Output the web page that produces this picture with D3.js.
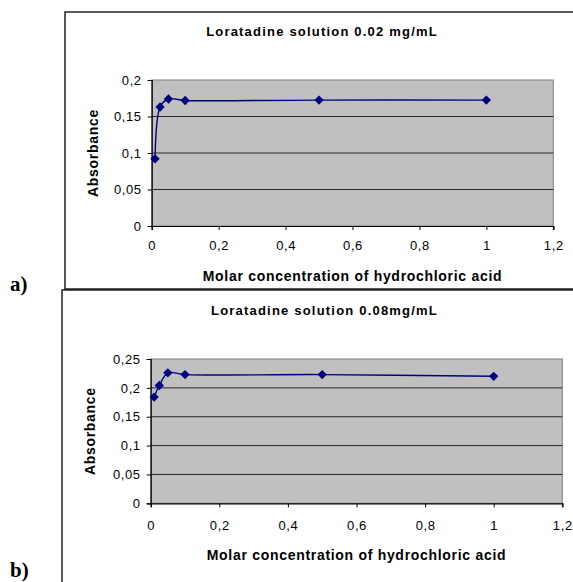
<!DOCTYPE html>
<html>
<head>
<meta charset="utf-8">
<script src="https://cdn.jsdelivr.net/npm/d3@7"></script>
<style>
  body { margin: 0; background: #fff; }
  svg { display: block; }
</style>
</head>
<body>
<div id="chart"></div>
<script>
// data
const concA = [0.01, 0.025, 0.05, 0.1, 0.5, 1];
const absA = [0.092, 0.163, 0.174, 0.172, 0.1725, 0.1725];
const concB = [0.01, 0.025, 0.05, 0.1, 0.5, 1];
const absB = [0.184, 0.204, 0.226, 0.223, 0.223, 0.22];
const xTicks = [0, 0.2, 0.4, 0.6, 0.8, 1, 1.2];
const yTicksA = [0, 0.05, 0.1, 0.15, 0.2];
const yTicksB = [0, 0.05, 0.1, 0.15, 0.2, 0.25];
const titles = ["Loratadine solution 0.02 mg/mL", "Loratadine solution 0.08mg/mL"];
const panelLabels = ["a)", "b)"];

const svg = d3.select("#chart").append("svg")
    .attr("width", 573)
    .attr("height", 582);

const fmt = d => String(d).replace(".", ",");

function drawPanel(cfg) {
    const g = svg.append("g");

    // outer chart frame
    g.append("rect")
        .attr("x", cfg.frame[0]).attr("y", cfg.frame[1])
        .attr("width", cfg.frame[2]).attr("height", cfg.frame[3])
        .attr("fill", "none").attr("stroke", "#000").attr("stroke-width", 1.3);

    const x = d3.scaleLinear().domain([0, 1.2]).range([cfg.left, cfg.right]);
    const y = d3.scaleLinear().domain([0, cfg.yMax]).range([cfg.bottom, cfg.top]);

    // grey plot area
    g.append("rect")
        .attr("x", cfg.left).attr("y", cfg.top)
        .attr("width", cfg.right - cfg.left).attr("height", cfg.bottom - cfg.top)
        .attr("fill", "#c0c0c0").attr("stroke", "#808080").attr("stroke-width", 1);

    // gridlines
    g.selectAll(".grid")
        .data(cfg.yTicks.filter(d => d > 0 && d < cfg.yMax))
        .enter().append("line")
        .attr("x1", cfg.left).attr("x2", cfg.right)
        .attr("y1", d => y(d)).attr("y2", d => y(d))
        .attr("stroke", "#000").attr("stroke-width", 0.8);

    // axes
    const xAxis = g.append("g")
        .attr("transform", `translate(0,${cfg.bottom})`)
        .call(d3.axisBottom(x).tickValues(xTicks).tickFormat(fmt).tickSize(4).tickPadding(cfg.xPad));
    const yAxis = g.append("g")
        .attr("transform", `translate(${cfg.left},0)`)
        .call(d3.axisLeft(y).tickValues(cfg.yTicks).tickFormat(fmt).tickSize(4).tickPadding(6));
    [xAxis, yAxis].forEach(a => {
        a.select(".domain").attr("stroke", "#000").attr("stroke-width", 1.2);
        a.selectAll(".tick line").attr("stroke", "#000");
        a.selectAll("text")
            .attr("fill", "#000")
            .style("font-family", "Liberation Sans, Arial, sans-serif")
            .style("font-size", "13px")
            .style("letter-spacing", "0.6px");
    });

    // smoothed data line
    const line = d3.line()
        .x(d => x(d[0]))
        .y(d => y(d[1]))
        .curve(d3.curveCatmullRom);
    const pts = cfg.xs.map((v, i) => [v, cfg.ys[i]]);
    g.append("path")
        .datum(pts)
        .attr("d", line)
        .attr("fill", "none")
        .attr("stroke", "#000080")
        .attr("stroke-width", 1.4);

    g.selectAll(".pt")
        .data(pts)
        .enter().append("path")
        .attr("transform", d => `translate(${x(d[0])},${y(d[1])})`)
        .attr("d", d3.symbol(d3.symbolDiamond2, 56))
        .attr("fill", "#000080");

    // titles
    g.append("text")
        .attr("x", cfg.titleX).attr("y", cfg.titleY)
        .attr("text-anchor", "middle")
        .style("font-family", "Liberation Sans, Arial, sans-serif")
        .style("font-weight", "bold")
        .style("font-size", "13px")
        .style("letter-spacing", "1.2px")
        .text(cfg.title);

    g.append("text")
        .attr("x", (cfg.left + cfg.right) / 2).attr("y", cfg.xLabelY)
        .attr("text-anchor", "middle")
        .style("font-family", "Liberation Sans, Arial, sans-serif")
        .style("font-weight", "bold")
        .style("font-size", "14px")
        .style("letter-spacing", "0.7px")
        .text("Molar concentration of hydrochloric acid");

    g.append("text")
        .attr("transform", `translate(${cfg.yLabelX},${(cfg.top + cfg.bottom) / 2}) rotate(-90)`)
        .attr("text-anchor", "middle")
        .style("font-family", "Liberation Sans, Arial, sans-serif")
        .style("font-weight", "bold")
        .style("font-size", "14px")
        .style("letter-spacing", "0.7px")
        .text("Absorbance");

    svg.append("text")
        .attr("x", 10).attr("y", cfg.panelY)
        .style("font-family", "Liberation Serif, Times New Roman, serif")
        .style("font-weight", "bold")
        .style("font-size", "21px")
        .text(cfg.panel);
}

drawPanel({
    frame: [65, 12, 530, 277],
    left: 151.7, right: 553.3, top: 80, bottom: 226,
    yMax: 0.2, yTicks: yTicksA, xPad: 11,
    xs: concA, ys: absA,
    title: titles[0], titleX: 322, titleY: 36,
    xLabelY: 281, yLabelX: 98,
    panel: panelLabels[0], panelY: 291
});

drawPanel({
    frame: [62, 290, 540, 320],
    left: 150.7, right: 562.3, top: 359, bottom: 503.3,
    yMax: 0.25, yTicks: yTicksB, xPad: 13,
    xs: concB, ys: absB,
    title: titles[1], titleX: 324.5, titleY: 315,
    xLabelY: 560, yLabelX: 95,
    panel: panelLabels[1], panelY: 577
});
</script>
</body>
</html>
